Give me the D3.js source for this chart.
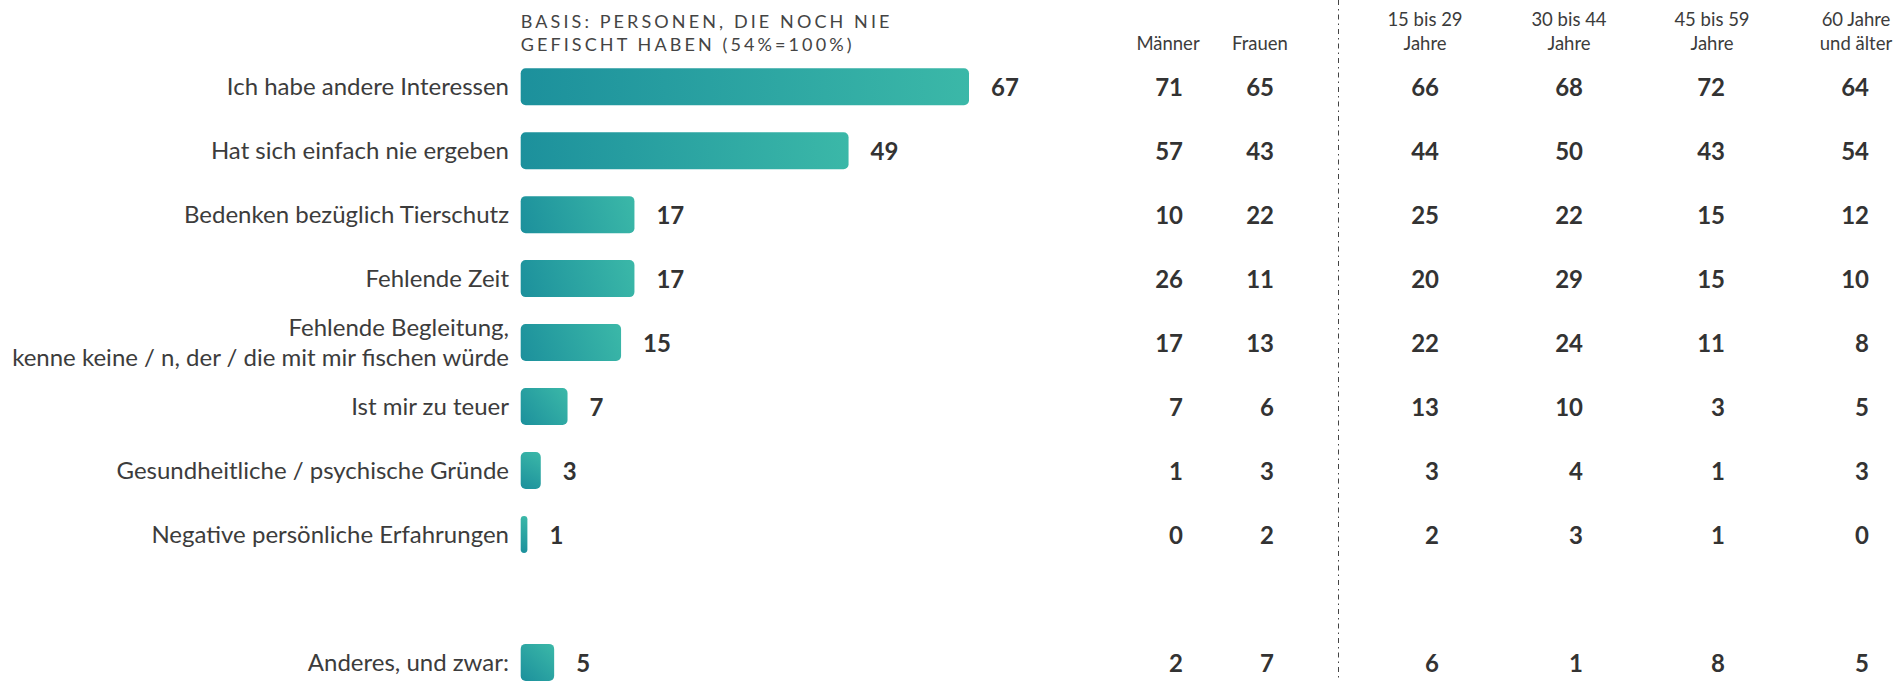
<!DOCTYPE html>
<html lang="de">
<head>
<meta charset="utf-8">
<title>Gründe, nicht zu fischen</title>
<script src="https://cdn.jsdelivr.net/npm/d3@7"></script>
<style>
  html, body { margin: 0; padding: 0; background: #fff; }
  svg { display: block; font-family: Lato, "Noto Sans", sans-serif; }
</style>
</head>
<body>
<svg id="chart" width="1898" height="681"></svg>
<script>
// Reasons (answer categories); "Anderes" is set apart after a blank slot
const reasons = [
  "Ich habe andere Interessen",
  "Hat sich einfach nie ergeben",
  "Bedenken bezüglich Tierschutz",
  "Fehlende Zeit",
  "Fehlende Begleitung,\nkenne keine / n, der / die mit mir fischen würde",
  "Ist mir zu teuer",
  "Gesundheitliche / psychische Gründe",
  "Negative persönliche Erfahrungen",
  "Anderes, und zwar:"
];

// Total share in percent
const totals = [67, 49, 17, 17, 15, 7, 3, 1, 5];

// Breakdown columns
const maenner  = [71, 57, 10, 26, 17, 7, 1, 0, 2];
const frauen   = [65, 43, 22, 11, 13, 6, 3, 2, 7];
const age15_29 = [66, 44, 25, 20, 22, 13, 3, 2, 6];
const age30_44 = [68, 50, 22, 29, 24, 10, 4, 3, 1];
const age45_59 = [72, 43, 15, 15, 11, 3, 1, 1, 8];
const age60    = [64, 54, 12, 10, 8, 5, 3, 0, 5];

const columnHeaders = [
  ["Männer"],
  ["Frauen"],
  ["15 bis 29", "Jahre"],
  ["30 bis 44", "Jahre"],
  ["45 bis 59", "Jahre"],
  ["60 Jahre", "und älter"]
];
const columns = [maenner, frauen, age15_29, age30_44, age45_59, age60];

const baseNote = ["BASIS: PERSONEN, DIE NOCH NIE", "GEFISCHT HABEN (54%=100%)"];

const svg = d3.select("#chart");
const textColor = "#3c3c3c";
const numColor = "#333333";

// Row positions: a spacer slot sits before the last category
const slotKeys = reasons.slice(0, 8).concat(["__spacer__"], reasons.slice(8));
const y = d3.scalePoint().domain(slotKeys).range([86.7, 662.4]);
const barH = 37;

const x0 = 520.7;
const x = d3.scaleLinear().domain([0, 67]).range([x0, 969]);

const rows = reasons.map((r, i) => ({ id: i, label: r, total: totals[i], cols: columns.map(c => c[i]) }));

// One teal gradient per bar, running from its lower-left corner (dark) to its upper-right corner (light)
const defs = svg.append("defs");
rows.forEach(d => {
  const g = defs.append("linearGradient")
    .attr("id", "barGrad" + d.id)
    .attr("gradientUnits", "userSpaceOnUse")
    .attr("x1", x0).attr("y1", y(d.label) + barH / 2)
    .attr("x2", x(d.total)).attr("y2", y(d.label) - barH / 2);
  g.append("stop").attr("offset", "0%").attr("stop-color", "#1c909c");
  g.append("stop").attr("offset", "100%").attr("stop-color", "#3bb8a8");
});

// Note above the bars
svg.append("text")
  .attr("fill", "#444")
  .style("font-size", "18px")
  .style("letter-spacing", "3.1px")
  .selectAll("tspan")
  .data(baseNote)
  .join("tspan")
  .attr("x", x0)
  .attr("y", (d, i) => 28.3 + i * 22.4)
  .text(d => d);

// Category labels (right aligned next to the bars)
const labels = svg.append("g").selectAll("text")
  .data(rows)
  .join("text")
  .attr("text-anchor", "end")
  .attr("fill", textColor)
  .style("font-size", "24px");

labels.each(function(d) {
  const lines = d.label.split("\n");
  const cy = y(d.label);
  const t = d3.select(this);
  lines.forEach((line, j) => {
    t.append("tspan")
      .attr("x", 509)
      .attr("y", cy + 8.5 + (j - (lines.length - 1) / 2) * 30)
      .text(line);
  });
});

// Bars
svg.append("g").selectAll("rect")
  .data(rows)
  .join("rect")
  .attr("x", x0)
  .attr("y", d => y(d.label) - barH / 2)
  .attr("width", d => x(d.total) - x0)
  .attr("height", barH)
  .attr("rx", d => Math.min(5, (x(d.total) - x0) / 2))
  .attr("fill", d => `url(#barGrad${d.id})`);

// Value labels at the bar ends
svg.append("g").selectAll("text")
  .data(rows)
  .join("text")
  .attr("x", d => x(d.total) + 22)
  .attr("y", d => y(d.label) + 9.5)
  .attr("fill", numColor)
  .style("font-size", "24px")
  .style("font-weight", 700)
  .text(d => d.total);

// Breakdown columns: right edge of the numbers, header centred above
const colRight = [1183, 1274, 1439, 1583, 1725, 1869];
const colCenter = [1168, 1260, 1425, 1569, 1712, 1856];

const headerG = svg.append("g");
columnHeaders.forEach((lines, c) => {
  const t = headerG.append("text")
    .attr("text-anchor", "middle")
    .attr("fill", textColor)
    .style("font-size", "18.5px");
  lines.forEach((line, j) => {
    t.append("tspan")
      .attr("x", colCenter[c])
      .attr("y", 50 - (lines.length - 1 - j) * 24)
      .text(line);
  });
});

const cells = [];
rows.forEach(r => r.cols.forEach((v, c) => cells.push({ label: r.label, c, v })));
svg.append("g").selectAll("text")
  .data(cells)
  .join("text")
  .attr("x", d => colRight[d.c])
  .attr("y", d => y(d.label) + 9.5)
  .attr("text-anchor", "end")
  .attr("fill", numColor)
  .style("font-size", "24px")
  .style("font-weight", 700)
  .text(d => d.v);

// Dash-dot divider between gender and age groups
svg.append("line")
  .attr("x1", 1338.5).attr("x2", 1338.5)
  .attr("y1", 0).attr("y2", 681)
  .attr("stroke", "#444")
  .attr("stroke-width", 1)
  .attr("stroke-dasharray", "5,4,1.5,4");
</script>
</body>
</html>
